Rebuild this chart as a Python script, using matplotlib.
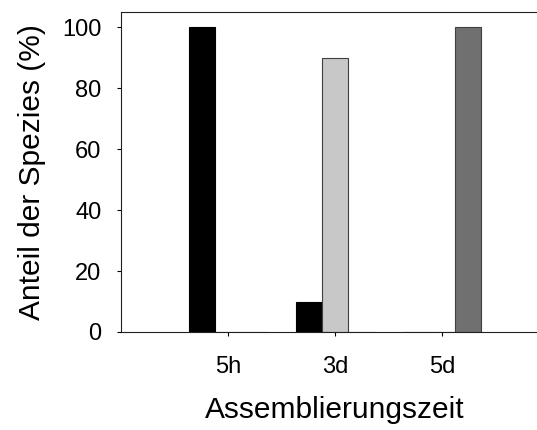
import matplotlib
matplotlib.use("Agg")
import matplotlib.pyplot as plt
import numpy as np

plt.rcParams['font.family'] = ['Liberation Sans', 'DejaVu Sans']

# Assembly times and share of each species (%)
zeiten = ["5h", "3d", "5d"]
spezies_1 = [100, 10, 0]
spezies_2 = [0, 90, 0]
spezies_3 = [0, 0, 100]

farben = ["#000000", "#c8c8c8", "#707070"]
kanten = ["#000000", "#404040", "#404040"]

fig = plt.figure(figsize=(5.37, 4.30), dpi=100)
ax = fig.add_axes([121 / 537, 1 - 332 / 430, 428 / 537, 320 / 430])

x = np.arange(len(zeiten))
breite = 0.24
for i, (werte, fc, ec) in enumerate(zip([spezies_1, spezies_2, spezies_3], farben, kanten)):
    ax.bar(x + (i - 1) * breite, werte, width=breite, color=fc,
           edgecolor=ec, linewidth=0.8, zorder=2)

ax.set_xlim(-1, 3)
ax.set_ylim(0, 105)
ax.set_yticks([0, 20, 40, 60, 80, 100])
ax.set_xticks(x)
ax.set_xticklabels(zeiten)

ax.spines['right'].set_visible(False)
for s in ['left', 'bottom', 'top']:
    ax.spines[s].set_linewidth(0.8)
    ax.spines[s].set_color('#202020')

ax.tick_params(axis='y', direction='out', length=3, width=0.8, pad=11,
               labelsize=17)
ax.tick_params(axis='x', direction='out', length=3, width=0.8, pad=14,
               labelsize=17)

ax.set_xlabel("Assemblierungszeit", fontsize=21.5, labelpad=13)
ax.set_ylabel("Anteil der Spezies (%)", fontsize=21.5, labelpad=12)

fig.savefig("out.png", dpi=100)
